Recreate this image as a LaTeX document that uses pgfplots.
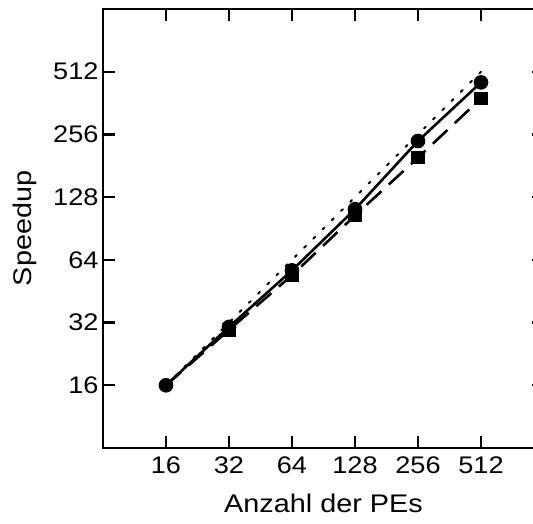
\documentclass[border=0pt]{standalone}
\usepackage{fontspec}
\setmainfont{Liberation Sans}[FakeStretch=1.13]
\usepackage{pgfplots}
\pgfplotsset{compat=1.18}
\begin{document}
\begin{tikzpicture}[x=1pt,y=1pt]
\begin{axis}[
  at={(0,0)}, anchor=south west,
  scale only axis, width=441pt, height=439pt,
  xmode=log, ymode=log, log basis x=2, log basis y=2,
  xmin=8, xmax=1024, ymin=8, ymax=1024,
  xtick={16,32,64,128,256,512}, ytick={16,32,64,128,256,512},
  xticklabels={16,32,64,128,256,512}, yticklabels={16,32,64,128,256,512},
  minor tick num=0, minor xtick={}, minor ytick={},
  tick align=inside, major tick length=12pt,
  every tick/.style={black, line width=2.4pt},
  axis line style={line width=2.6pt},
  /pgf/number format/assume math mode=true,
  tick label style={font=\fontsize{24}{28}\selectfont},
  xticklabel style={yshift=-5pt},
  yticklabel style={xshift=-1pt},
  label style={font=\fontsize{25.5}{30}\selectfont},
  xlabel={Anzahl der PEs}, ylabel={Speedup},
  xlabel style={yshift=-14pt},
  ylabel style={yshift=10pt},
  clip=false,
]
\addplot[black, line width=2pt, dash pattern=on 2.5pt off 10.5pt, line cap=round] coordinates {(16,16) (512,512)};
\addplot[black, line width=2.6pt, dash pattern=on 20pt off 10pt, mark=square*, mark size=5.5pt, mark options={solid}, mark indices={2,3,4,5,6}] coordinates {
(16,16) (32,29.5) (64,54) (128,104.5) (256,198) (512,381)};
\addplot[black, line width=2.6pt, mark=*, mark size=6pt] coordinates {
(16,16) (32,30.5) (64,57) (128,112) (256,238) (512,455)};
\end{axis}
\pgfresetboundingbox
\useasboundingbox (-103pt,-75pt) rectangle (430pt,448pt);
\end{tikzpicture}
\end{document}
